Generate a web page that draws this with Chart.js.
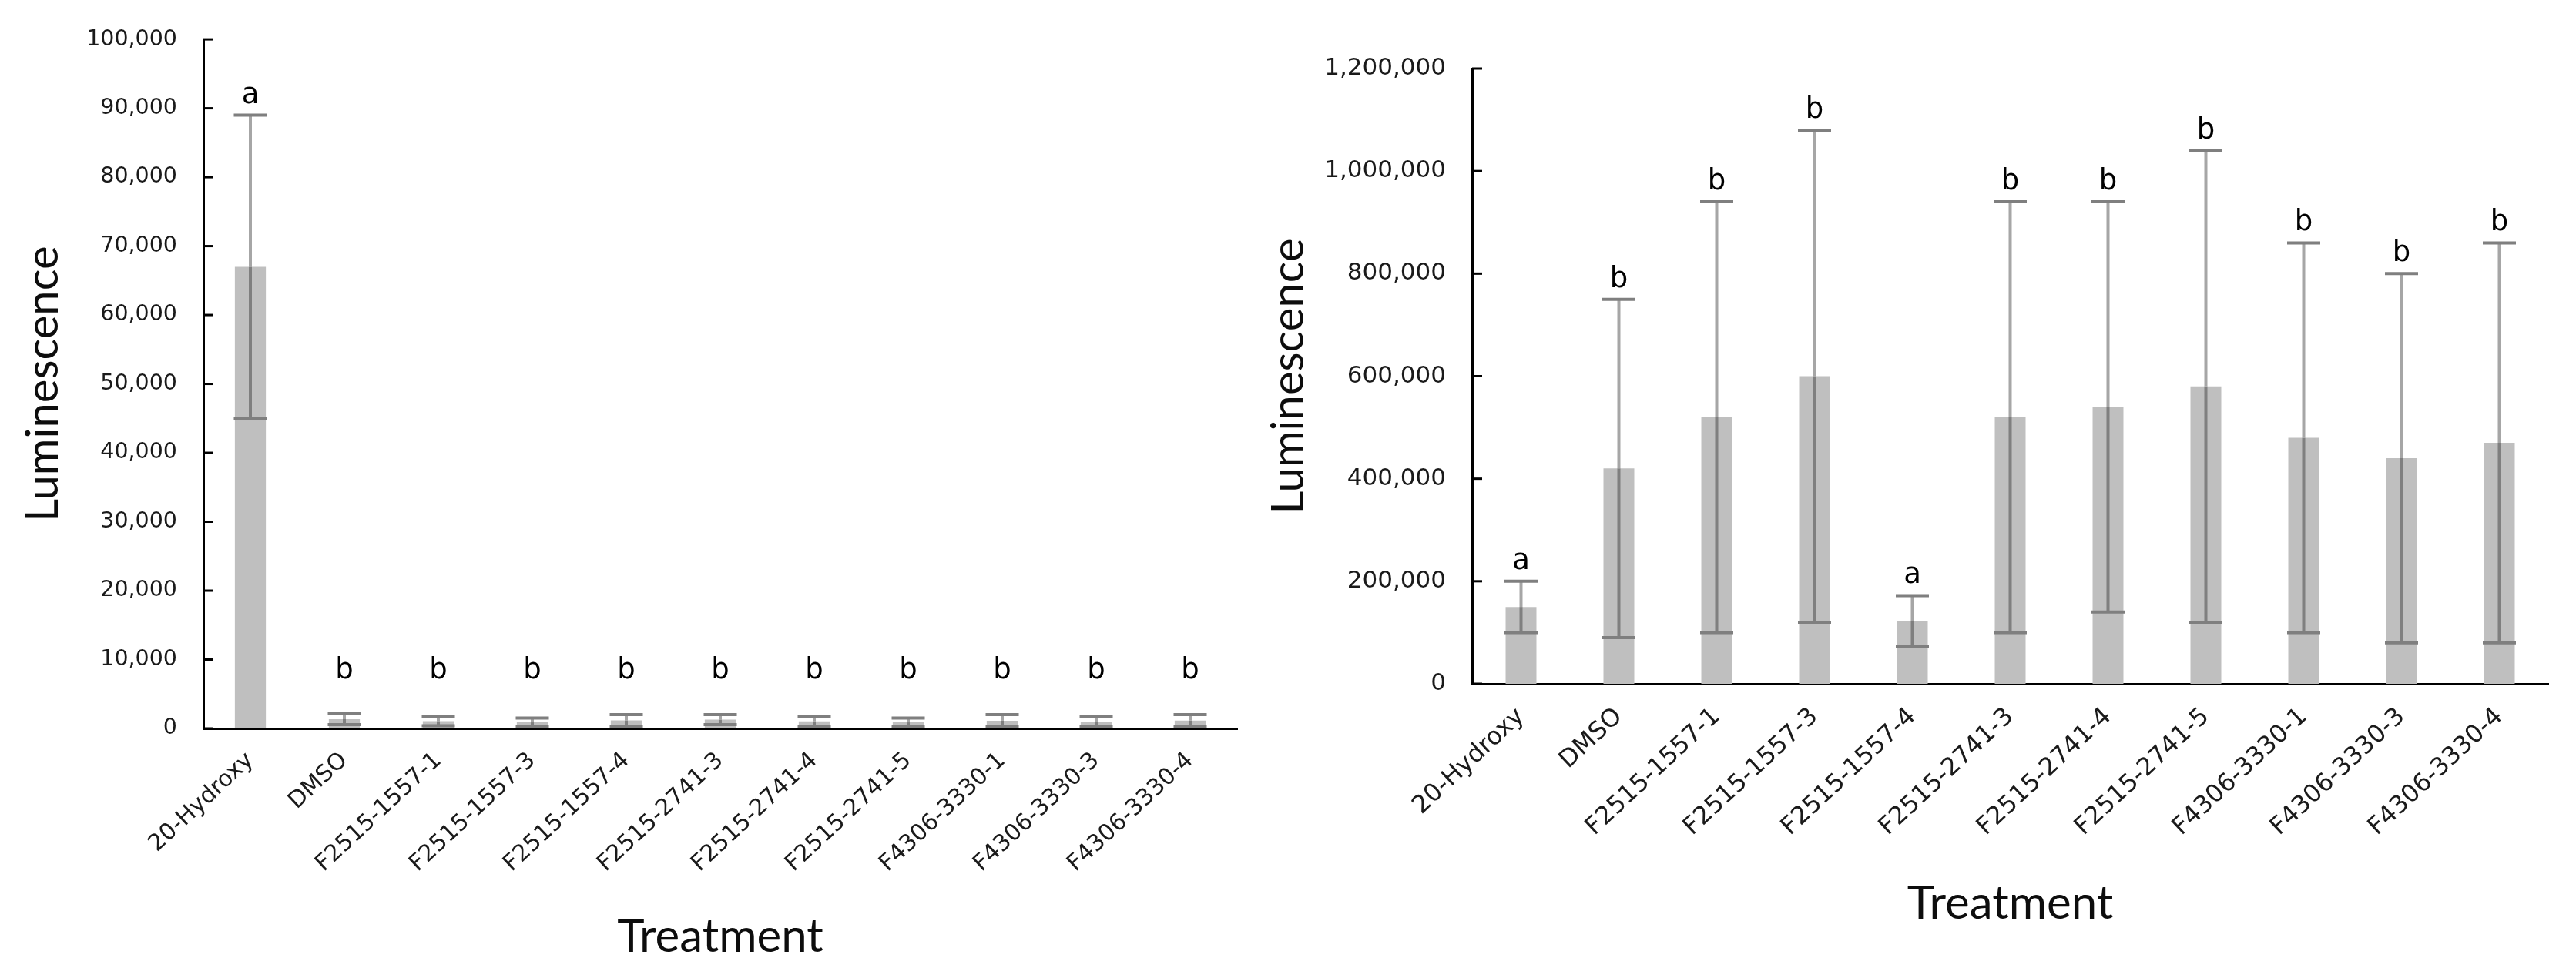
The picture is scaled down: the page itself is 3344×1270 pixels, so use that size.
<!DOCTYPE html>
<html>
<head>
<meta charset="utf-8">
<script src="https://cdn.jsdelivr.net/npm/chart.js@4.4.1/dist/chart.umd.min.js"></script>
<style>
  html, body { margin: 0; padding: 0; background: #fff; }
  #wrap { position: relative; width: 3344px; height: 1270px; }
  canvas { position: absolute; top: 0; }
</style>
</head>
<body>
<div id="wrap">
  <canvas id="chart-left" width="1620" height="1270" style="left:0"></canvas>
  <canvas id="chart-right" width="1724" height="1270" style="left:1620px"></canvas>
</div>
<script>
const treatments = [
    '20-Hydroxy', 'DMSO', 'F2515-1557-1', 'F2515-1557-3', 'F2515-1557-4',
    'F2515-2741-3', 'F2515-2741-4', 'F2515-2741-5', 'F4306-3330-1',
    'F4306-3330-3', 'F4306-3330-4'
];

// left panel
const leftMeans = [67000, 1340, 1060, 890, 1170, 1280, 1040, 890, 1130, 1000, 1150];
const leftErrors = [22000, 770, 680, 620, 830, 720, 700, 620, 870, 740, 850];
const leftLetters = ['a', 'b', 'b', 'b', 'b', 'b', 'b', 'b', 'b', 'b', 'b'];

// right panel
const rightMeans = [150000, 420000, 520000, 600000, 122000, 520000, 540000, 580000, 480000, 440000, 470000];
const rightErrors = [50000, 330000, 420000, 480000, 50000, 420000, 400000, 460000, 380000, 360000, 390000];
const rightLetters = ['a', 'b', 'b', 'b', 'a', 'b', 'b', 'b', 'b', 'b', 'b'];

const TICK_FONT = '"DejaVu Sans", sans-serif';
const TITLE_FONT = 'Lato, "Open Sans", sans-serif';

// error bars, significance letters and inward y tick marks
const extrasPlugin = {
    id: 'extras',
    afterDatasetsDraw(chart, args, opts) {
        const ctx = chart.ctx;
        const y = chart.scales.y;
        const meta = chart.getDatasetMeta(0);
        const means = chart.data.datasets[0].data;
        const half = opts.capWidth / 2;

        const line = (x1, y1, x2, y2) => {
            ctx.beginPath();
            ctx.moveTo(x1, y1);
            ctx.lineTo(x2, y2);
            ctx.stroke();
        };

        ctx.save();
        ctx.lineWidth = 4;
        ctx.lineCap = 'butt';
        ctx.font = opts.letterFont;
        ctx.textAlign = 'center';
        ctx.textBaseline = 'alphabetic';
        ctx.fillStyle = '#000';

        meta.data.forEach((bar, i) => {
            const m = means[i];
            const e = opts.errors[i];
            const yTop = y.getPixelForValue(m + e);
            const yMid = y.getPixelForValue(m);
            const yLow = y.getPixelForValue(m - e);

            ctx.strokeStyle = '#7f7f7f';
            line(bar.x, yLow, bar.x, yMid);
            ctx.strokeStyle = '#a6a6a6';
            line(bar.x, yMid, bar.x, yTop);
            ctx.strokeStyle = '#7f7f7f';
            line(bar.x - half, yTop, bar.x + half, yTop);
            line(bar.x - half, yLow, bar.x + half, yLow);

            let ly = yTop - opts.letterGap;
            if (opts.letterFloor != null) {
                ly = Math.min(ly, y.getPixelForValue(opts.letterFloor));
            }
            ctx.fillText(opts.letters[i], bar.x, ly);
        });

        // tick marks point into the plot
        ctx.strokeStyle = '#000';
        ctx.lineWidth = 3;
        const x0 = chart.chartArea.left;
        y.ticks.forEach((t, i) => {
            const py = y.getPixelForTick(i);
            line(x0, py, x0 + 13, py);
        });
        ctx.restore();
    }
};

function buildChart(id, means, errors, letters, s) {
    const ctx = document.getElementById(id).getContext('2d');
    return new Chart(ctx, {
        type: 'bar',
        data: {
            labels: treatments,
            datasets: [{
                data: means,
                backgroundColor: '#bfbfbf',
                borderWidth: 0,
                barPercentage: s.barPct,
                categoryPercentage: 1
            }]
        },
        plugins: [extrasPlugin],
        options: {
            responsive: false,
            animation: false,
            devicePixelRatio: 1,
            layout: {
                padding: { top: s.top, right: s.right, bottom: 0, left: 0 }
            },
            plugins: {
                legend: { display: false },
                tooltip: { enabled: false },
                extras: {
                    errors: errors,
                    letters: letters,
                    capWidth: 43,
                    letterGap: 16,
                    letterFloor: s.letterFloor,
                    letterFont: '37px ' + TICK_FONT
                }
            },
            scales: {
                x: {
                    grid: { display: false, drawTicks: false },
                    border: { color: '#000', width: 3 },
                    ticks: {
                        autoSkip: false,
                        minRotation: 43,
                        maxRotation: 43,
                        padding: 24,
                        color: '#1a1a1a',
                        font: { family: TICK_FONT, size: s.xFont }
                    },
                    title: {
                        display: true,
                        text: 'Treatment',
                        color: '#0d0d0d',
                        font: { family: TITLE_FONT, size: 60 },
                        padding: { top: 0, bottom: s.xTitlePad }
                    },
                    afterFit: scale => { scale.height = s.xHeight; }
                },
                y: {
                    min: 0,
                    max: s.yMax,
                    grid: { display: false, drawTicks: false },
                    border: { color: '#000', width: 3 },
                    ticks: {
                        stepSize: s.step,
                        padding: 34,
                        color: '#1a1a1a',
                        font: { family: TICK_FONT, size: s.yFont },
                        callback: v => v.toLocaleString('en-US')
                    },
                    title: {
                        display: true,
                        text: 'Luminescence',
                        color: '#0d0d0d',
                        font: { family: TITLE_FONT, size: 58 },
                        padding: { top: s.yTitlePad, bottom: 0 }
                    },
                    afterFit: scale => { scale.width = s.yWidth; }
                }
            }
        }
    });
}

document.addEventListener('DOMContentLoaded', () => {
    buildChart('chart-left', leftMeans, leftErrors, leftLetters, {
        yMax: 100000, step: 10000, yWidth: 264, xHeight: 324, top: 48, right: 14,
        barPct: 0.33, xFont: 30, yFont: 28.5, xTitlePad: 17, yTitlePad: 21,
        letterFloor: 7300
    });
    buildChart('chart-right', rightMeans, rightErrors, rightLetters, {
        yMax: 1200000, step: 200000, yWidth: 291, xHeight: 382, top: 89, right: 36,
        barPct: 0.315, xFont: 32, yFont: 31, xTitlePad: 60, yTitlePad: 18,
        letterFloor: null
    });
});
</script>
</body>
</html>
